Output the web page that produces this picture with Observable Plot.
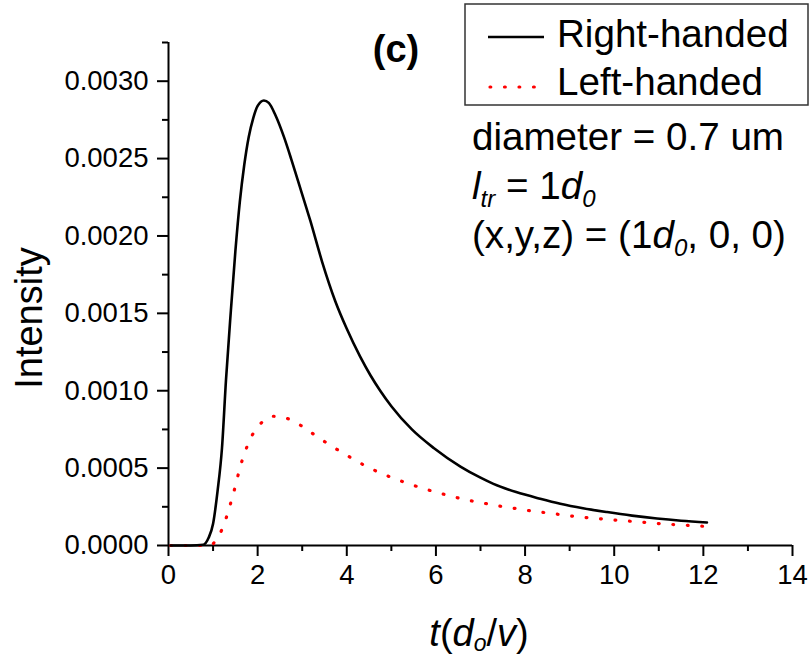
<!DOCTYPE html>
<html>
<head>
<meta charset="utf-8">
<script src="https://cdn.jsdelivr.net/npm/d3@7"></script>
<script src="https://cdn.jsdelivr.net/npm/@observablehq/plot@0.6"></script>
<style>
  html, body { margin: 0; padding: 0; background: white; }
  #chart { width: 811px; height: 656px; }
</style>
</head>
<body>
<div id="chart"></div>
<script>
// ---- data ----
const rightT = [0.05, 0.5, 0.78, 0.9, 1.0, 1.1, 1.2, 1.29, 1.4, 1.5, 1.6, 1.7, 1.8, 1.9, 2.0, 2.14, 2.25, 2.4, 2.59, 2.75, 2.89, 3.18, 3.45, 3.74, 4.0, 4.3, 4.53, 4.75, 5.0, 5.46, 5.95, 6.55, 7.0, 7.29, 7.8, 8.34, 8.79, 9.3, 9.84, 10.4, 10.96, 11.5, 12.08];
const rightI = [0, 0, 0.000005, 0.00005, 0.00014, 0.00035, 0.00063, 0.00107, 0.00152, 0.00190, 0.00222, 0.00246, 0.00264, 0.00276, 0.00284, 0.002875, 0.00286, 0.00278, 0.00264, 0.00250, 0.00237, 0.00210, 0.00183, 0.00158, 0.00140, 0.00122, 0.00110, 0.00100, 0.00090, 0.00075, 0.00063, 0.00051, 0.000438, 0.000398, 0.000345, 0.000302, 0.000270, 0.000241, 0.000216, 0.000193, 0.000174, 0.00016, 0.000149];

const leftT = [0.05, 0.5, 0.95, 1.05, 1.23, 1.34, 1.43, 1.52, 1.60, 1.70, 1.82, 2.03, 2.35, 2.67, 3.0, 3.32, 3.64, 3.97, 4.28, 4.60, 4.93, 5.25, 5.58, 5.90, 6.23, 6.55, 6.87, 7.2, 7.52, 7.84, 8.17, 8.49, 9.14, 9.79, 10.43, 11.08, 11.73, 12.06];
const leftI = [0, 0, 0, 0.00003, 0.000125, 0.00022, 0.00031, 0.000405, 0.0005, 0.00059, 0.00068, 0.000775, 0.000835, 0.00082, 0.00077, 0.000706, 0.000646, 0.000588, 0.000536, 0.000489, 0.000448, 0.000413, 0.000381, 0.000353, 0.000327, 0.000304, 0.000284, 0.000267, 0.00025, 0.000237, 0.000222, 0.000211, 0.000187, 0.00017, 0.000155, 0.00014, 0.000129, 0.000123];

const xMajor = [0, 2, 4, 6, 8, 10, 12, 14];
const xMinor = [1, 3, 5, 7, 9, 11, 13];
const yMajor = [0, 0.0005, 0.001, 0.0015, 0.002, 0.0025, 0.003];
const yMinor = [0.00025, 0.00075, 0.00125, 0.00175, 0.00225, 0.00275, 0.00325];

const seriesNames = ["Right-handed", "Left-handed"];

const right = rightT.map((t, i) => ({t, v: rightI[i]}));
const left = leftT.map((t, i) => ({t, v: leftI[i]}));

const FONT = "'Liberation Sans', Arial, sans-serif";
const DOTS = "0.8,13.7";
const BIG = 38.6;

const chart = Plot.plot({
  width: 811,
  height: 656,
  marginLeft: 168,
  marginRight: 19,
  marginTop: 42,
  marginBottom: 111,
  style: {fontFamily: FONT, background: "white", color: "black", overflow: "visible"},
  x: {domain: [0, 14]},
  y: {domain: [0, 0.00325]},
  marks: [
    Plot.axisX({ticks: xMajor, tickSize: 11, tickPadding: 8, fontSize: 27.5, strokeWidth: 2, tickFormat: d => String(d), label: null}),
    Plot.axisX({ticks: xMinor, tickSize: 6, strokeWidth: 2, tickFormat: () => "", label: null}),
    Plot.axisY({ticks: yMajor, tickSize: 11, tickPadding: 9, fontSize: 27.5, strokeWidth: 2, tickFormat: d3.format(".4f"), label: null}),
    Plot.axisY({ticks: yMinor, tickSize: 6, strokeWidth: 2, tickFormat: () => "", label: null}),
    Plot.ruleX([0], {strokeWidth: 2}),
    Plot.ruleY([0], {strokeWidth: 2}),
    Plot.line(left, {x: "t", y: "v", stroke: "#ff0000", strokeWidth: 3.2, strokeDasharray: DOTS, strokeLinecap: "round", curve: "monotone-x"}),
    Plot.line(right, {x: "t", y: "v", stroke: "black", strokeWidth: 2.6, curve: "monotone-x"})
  ]
});

document.getElementById("chart").appendChild(chart);

const svg = d3.select(chart);
const g = svg.append("g").attr("font-family", FONT).attr("fill", "black").attr("text-anchor", "start");

// y-axis title
g.append("text")
  .attr("transform", "translate(42,318) rotate(-90)")
  .attr("text-anchor", "middle")
  .attr("font-size", 38)
  .text("Intensity");

// x-axis title: t(d_o/v)
const xt = g.append("text")
  .attr("x", 479).attr("y", 646)
  .attr("text-anchor", "middle")
  .attr("font-size", 38);
xt.append("tspan").attr("font-style", "italic").text("t");
xt.append("tspan").text("(");
xt.append("tspan").attr("font-style", "italic").text("d");
xt.append("tspan").attr("font-style", "italic").attr("font-size", 23).attr("dy", 5).text("o");
xt.append("tspan").attr("dy", -5).text("/");
xt.append("tspan").attr("font-style", "italic").text("v");
xt.append("tspan").text(")");

// panel label
g.append("text")
  .attr("x", 396).attr("y", 62)
  .attr("text-anchor", "middle")
  .attr("font-size", 38)
  .attr("font-weight", "bold")
  .text("(c)");

// legend
const lg = g.append("g");
lg.append("rect")
  .attr("x", 465).attr("y", 4).attr("width", 343).attr("height", 101)
  .attr("fill", "white").attr("stroke", "#333").attr("stroke-width", 1.5);
lg.append("line")
  .attr("x1", 488).attr("x2", 544).attr("y1", 37).attr("y2", 37)
  .attr("stroke", "black").attr("stroke-width", 2.6);
lg.append("line")
  .attr("x1", 490).attr("x2", 545).attr("y1", 87).attr("y2", 87)
  .attr("stroke", "#ff0000").attr("stroke-width", 3.2).attr("stroke-linecap", "round").attr("stroke-dasharray", DOTS);
lg.append("text").attr("x", 557).attr("y", 47).attr("font-size", BIG).text(seriesNames[0]);
lg.append("text").attr("x", 557).attr("y", 95).attr("font-size", BIG).text(seriesNames[1]);

// annotations
g.append("text").attr("x", 472).attr("y", 150).attr("font-size", BIG).text("diameter = 0.7 um");

const l2 = g.append("text").attr("x", 472).attr("y", 199).attr("font-size", BIG);
l2.append("tspan").attr("font-style", "italic").text("l");
l2.append("tspan").attr("font-style", "italic").attr("font-size", 24).attr("dy", 8).text("tr");
l2.append("tspan").attr("dy", -8).text(" = 1");
l2.append("tspan").attr("font-style", "italic").text("d");
l2.append("tspan").attr("font-style", "italic").attr("font-size", 24).attr("dy", 8).text("0");

const l3 = g.append("text").attr("x", 472).attr("y", 248).attr("font-size", BIG);
l3.append("tspan").text("(x,y,z) = (1");
l3.append("tspan").attr("font-style", "italic").text("d");
l3.append("tspan").attr("font-style", "italic").attr("font-size", 24).attr("dy", 8).text("0");
l3.append("tspan").attr("dy", -8).text(", 0, 0)");
</script>
</body>
</html>
